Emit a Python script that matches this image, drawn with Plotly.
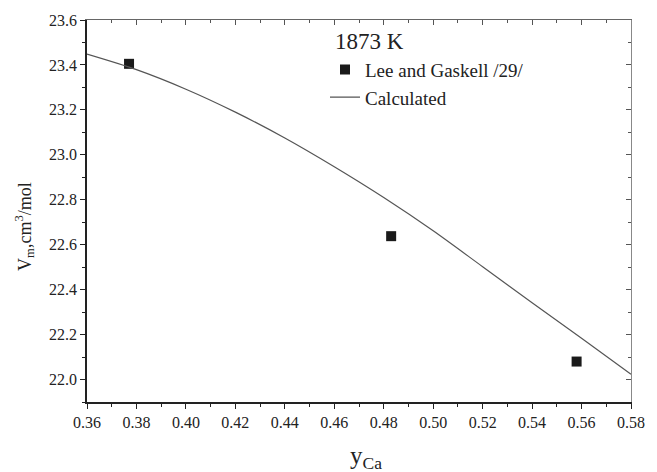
import plotly.graph_objects as go

# Experimental data (Lee and Gaskell /29/)
exp_x = [0.377, 0.483, 0.558]
exp_y = [23.405, 22.638, 22.080]

# Calculated curve
calc_x = [0.36, 0.38, 0.40, 0.42, 0.44, 0.46, 0.48, 0.50, 0.52, 0.54, 0.56, 0.58]
calc_y = [23.448, 23.379, 23.292, 23.190, 23.075, 22.947, 22.810, 22.662, 22.502, 22.342, 22.184, 22.024]

x_ticks = [0.36, 0.38, 0.40, 0.42, 0.44, 0.46, 0.48, 0.50, 0.52, 0.54, 0.56, 0.58]
y_ticks = [22.0, 22.2, 22.4, 22.6, 22.8, 23.0, 23.2, 23.4, 23.6]

serif = "'Liberation Serif', 'Times New Roman', Times, serif"

fig = go.Figure()
fig.add_trace(go.Scatter(
    x=exp_x, y=exp_y, mode="markers", name="Lee and Gaskell /29/",
    marker=dict(symbol="square", size=10, color="#1a1a1a"),
))
fig.add_trace(go.Scatter(
    x=calc_x, y=calc_y, mode="lines", name="Calculated",
    line=dict(color="#555555", width=1.2, shape="spline", smoothing=0.8),
))

fig.update_layout(
    width=657, height=472,
    margin=dict(l=87, r=26, t=16, b=70),
    paper_bgcolor="white", plot_bgcolor="white",
    font=dict(family=serif, color="#222222"),
    showlegend=True,
    legend=dict(x=0.4375, y=0.92, xanchor="left", yanchor="top",
                bgcolor="rgba(0,0,0,0)", font=dict(size=19, family=serif),
                itemwidth=30, tracegroupgap=0),
    xaxis=dict(
        range=[0.36, 0.58], tickvals=x_ticks,
        ticktext=[f"{v:.2f}" for v in x_ticks],
        ticks="outside", ticklen=5, tickwidth=1.2, tickcolor="#222",
        minor=dict(dtick=0.01, ticks="outside", ticklen=3, tickcolor="#222", tick0=0.36),
        showline=True, linecolor="#222", linewidth=1.5,
        showgrid=False, zeroline=False,
        tickfont=dict(size=16, family=serif),
    ),
    yaxis=dict(
        range=[21.9, 23.6], tickvals=y_ticks,
        ticktext=[f"{v:.1f}" for v in y_ticks],
        ticks="outside", ticklen=5, tickwidth=1.2, tickcolor="#222",
        minor=dict(dtick=0.1, ticks="outside", ticklen=3, tickcolor="#222", tick0=21.9),
        showline=True, linecolor="#222", linewidth=1.5,
        showgrid=False, zeroline=False,
        tickfont=dict(size=16, family=serif),
    ),
    xaxis2=dict(
        overlaying="x", side="top", range=[0.36, 0.58], tickvals=x_ticks,
        showticklabels=False, ticks="inside", ticklen=5, tickcolor="#555",
        minor=dict(dtick=0.01, ticks="inside", ticklen=3, tickcolor="#555", tick0=0.36),
        showline=True, linecolor="#666", linewidth=1, showgrid=False, zeroline=False,
    ),
    yaxis2=dict(
        overlaying="y", side="right", range=[21.9, 23.6], tickvals=y_ticks,
        showticklabels=False, ticks="inside", ticklen=5, tickcolor="#555",
        minor=dict(dtick=0.1, ticks="inside", ticklen=3, tickcolor="#555", tick0=21.9),
        showline=True, linecolor="#888", linewidth=1, showgrid=False, zeroline=False,
    ),
)

# invisible trace to activate the mirrored axes
fig.add_trace(go.Scatter(x=[calc_x[0]], y=[calc_y[0]], xaxis="x2", yaxis="y2",
                         mode="markers", marker=dict(opacity=0), showlegend=False,
                         hoverinfo="skip"))

fig.add_annotation(text="1873 K", x=0.453, y=0.945, xref="paper", yref="paper",
                   xanchor="left", yanchor="middle", showarrow=False,
                   font=dict(size=23, family=serif, color="#222"))

# axis titles
fig.add_annotation(text="y<sub>Ca</sub>", x=0.513, y=-0.145, xref="paper", yref="paper",
                   xanchor="center", yanchor="middle", showarrow=False,
                   font=dict(size=25, family=serif, color="#222"))
fig.add_annotation(text="V<sub>m</sub>,cm<sup>3</sup>/mol", x=-0.114, y=0.461,
                   xref="paper", yref="paper", xanchor="center", yanchor="middle",
                   textangle=-90, showarrow=False,
                   font=dict(size=18, family=serif, color="#222"))

fig.write_html("out.html")
